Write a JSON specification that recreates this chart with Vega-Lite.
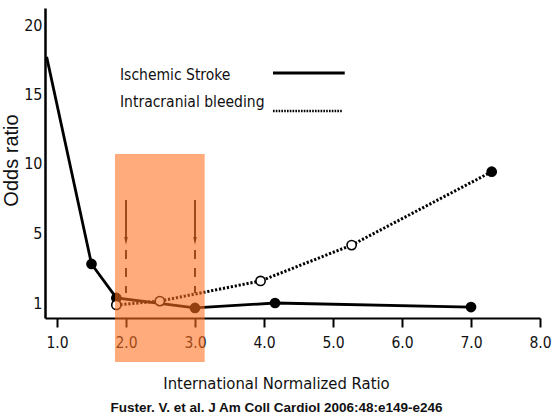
{
  "$schema": "https://vega.github.io/schema/vega-lite/v6.json",
  "width": 495,
  "height": 310,
  "autosize": {"type": "none"},
  "padding": {"left": 45, "top": 8, "right": 15, "bottom": 98},
  "background": "white",
  "config": {"view": {"stroke": null}},
  "title": {
    "text": "Fuster. V. et al. J Am Coll Cardiol 2006:48:e149-e246",
    "orient": "bottom",
    "anchor": "middle",
    "dx": -16,
    "offset": 9,
    "font": "Liberation Sans",
    "fontSize": 13.5,
    "fontWeight": "bold",
    "color": "#111"
  },
  "datasets": {
    "curves": [
      {"series": "Ischemic Stroke", "inr": 0.85, "or": 17.7, "marker": "none"},
      {"series": "Ischemic Stroke", "inr": 1.5, "or": 3.23, "marker": "filled"},
      {"series": "Ischemic Stroke", "inr": 1.86, "or": 1.29, "marker": "filled"},
      {"series": "Ischemic Stroke", "inr": 3.0, "or": 0.67, "marker": "filled"},
      {"series": "Ischemic Stroke", "inr": 4.16, "or": 1.0, "marker": "filled"},
      {"series": "Ischemic Stroke", "inr": 7.0, "or": 0.73, "marker": "filled"},
      {"series": "Intracranial bleeding", "inr": 1.86, "or": 0.87, "marker": "open"},
      {"series": "Intracranial bleeding", "inr": 2.49, "or": 1.11, "marker": "open"},
      {"series": "Intracranial bleeding", "inr": 3.95, "or": 2.26, "marker": "open"},
      {"series": "Intracranial bleeding", "inr": 5.27, "or": 4.31, "marker": "open"},
      {"series": "Intracranial bleeding", "inr": 7.3, "or": 9.42, "marker": "filled"}
    ],
    "bounds": [{"bound": 2}, {"bound": 3}],
    "band": [{"lo": 1.84, "hi": 3.14, "top": 10.7, "bottom": -2.93}]
  },
  "layer": [
    {
      "data": {"name": "curves"},
      "mark": {"type": "line", "color": "black", "strokeWidth": 2.8},
      "transform": [{"filter": "datum.series === 'Ischemic Stroke'"}],
      "encoding": {
        "x": {
          "field": "inr",
          "type": "quantitative",
          "scale": {"domain": [0.826, 8.0], "nice": false, "zero": false},
          "axis": {
            "title": "International Normalized Ratio",
            "values": [1, 2, 3, 4, 5, 6, 7, 8],
            "format": ".1f",
            "grid": false,
            "domainColor": "black",
            "domainWidth": 2,
            "tickColor": "black",
            "tickWidth": 2,
            "tickSize": 9,
            "labelFlush": false,
            "labelFont": "DejaVu Sans Condensed, Liberation Sans, sans-serif",
            "labelFontSize": 15.5,
            "labelColor": "#111",
            "labelPadding": 8,
            "titleFont": "DejaVu Sans Condensed, Liberation Sans, sans-serif",
            "titleFontSize": 16.5,
            "titleFontWeight": "normal",
            "titleColor": "#111",
            "titleX": 231,
            "titleY": 70,
            "titleAlign": "center",
            "titleBaseline": "alphabetic"
          }
        },
        "y": {
          "field": "or",
          "type": "quantitative",
          "scale": {"domain": [0, 1, 5, 20, 21.2], "range": [310, 295, 225, 17, 0], "nice": false, "zero": false},
          "axis": {
            "title": "Odds ratio",
            "values": [1, 5, 10, 15, 20],
            "grid": false,
            "ticks": false,
            "domainColor": "black",
            "domainWidth": 2.5,
            "labelFont": "DejaVu Sans Condensed, Liberation Sans, sans-serif",
            "labelFontSize": 16,
            "labelColor": "#111",
            "labelPadding": 3,
            "titleFont": "Liberation Sans, sans-serif",
            "titleFontSize": 20,
            "titleFontWeight": "normal",
            "titleColor": "#111",
            "titleX": -28,
            "titleY": 152,
            "titleAlign": "center",
            "titleBaseline": "alphabetic"
          }
        },
        "order": {"field": "inr"}
      }
    },
    {
      "data": {"name": "curves"},
      "mark": {"type": "line", "color": "black", "strokeWidth": 3, "strokeDash": [2.2, 1.8]},
      "transform": [{"filter": "datum.series === 'Intracranial bleeding'"}],
      "encoding": {
        "x": {"field": "inr", "type": "quantitative"},
        "y": {"field": "or", "type": "quantitative"},
        "order": {"field": "inr"}
      }
    },
    {
      "data": {"name": "curves"},
      "mark": {"type": "point", "filled": true, "color": "black", "size": 115, "opacity": 1},
      "transform": [{"filter": "datum.marker === 'filled'"}],
      "encoding": {
        "x": {"field": "inr", "type": "quantitative"},
        "y": {"field": "or", "type": "quantitative"}
      }
    },
    {
      "data": {"name": "curves"},
      "mark": {"type": "point", "filled": true, "fill": "white", "stroke": "black", "strokeWidth": 1.6, "size": 85, "opacity": 1},
      "transform": [{"filter": "datum.marker === 'open'"}],
      "encoding": {
        "x": {"field": "inr", "type": "quantitative"},
        "y": {"field": "or", "type": "quantitative"}
      }
    },
    {
      "data": {"name": "bounds"},
      "mark": {"type": "rule", "color": "black", "strokeWidth": 1.8},
      "encoding": {
        "x": {"field": "bound", "type": "quantitative"},
        "y": {"datum": 7.38},
        "y2": {"datum": 4.55}
      }
    },
    {
      "data": {"name": "bounds"},
      "mark": {"type": "point", "shape": "M-0.45,-1L0.45,-1L0,1Z", "filled": true, "color": "black", "size": 60, "opacity": 1},
      "encoding": {
        "x": {"field": "bound", "type": "quantitative"},
        "y": {"datum": 4.55}
      }
    },
    {
      "data": {"name": "bounds"},
      "mark": {"type": "rule", "color": "black", "strokeWidth": 1.8, "strokeDash": [9, 9]},
      "encoding": {
        "x": {"field": "bound", "type": "quantitative"},
        "y": {"datum": 4.03},
        "y2": {"datum": 1.57}
      }
    },
    {
      "data": {"name": "band"},
      "mark": {"type": "text", "align": "left", "baseline": "alphabetic", "font": "DejaVu Sans Condensed, Liberation Sans, sans-serif", "fontSize": 15.5, "color": "#111", "text": "Ischemic Stroke"},
      "encoding": {"x": {"datum": 1.913}, "y": {"datum": 16.03}}
    },
    {
      "data": {"name": "band"},
      "mark": {"type": "text", "align": "left", "baseline": "alphabetic", "font": "DejaVu Sans Condensed, Liberation Sans, sans-serif", "fontSize": 15.5, "color": "#111", "text": "Intracranial bleeding"},
      "encoding": {"x": {"datum": 1.913}, "y": {"datum": 14.09}}
    },
    {
      "data": {"name": "band"},
      "mark": {"type": "rule", "color": "black", "strokeWidth": 2.8},
      "encoding": {"x": {"datum": 4.13}, "x2": {"datum": 5.17}, "y": {"datum": 16.54}}
    },
    {
      "data": {"name": "band"},
      "mark": {"type": "rule", "color": "black", "strokeWidth": 2.5, "strokeDash": [1.6, 1.2]},
      "encoding": {"x": {"datum": 4.13}, "x2": {"datum": 5.14}, "y": {"datum": 13.8}}
    },
    {
      "data": {"name": "band"},
      "mark": {"type": "rect", "color": "#FF6E1E", "opacity": 0.58},
      "encoding": {
        "x": {"field": "lo", "type": "quantitative"},
        "x2": {"field": "hi"},
        "y": {"field": "top", "type": "quantitative"},
        "y2": {"field": "bottom"}
      }
    }
  ]
}
